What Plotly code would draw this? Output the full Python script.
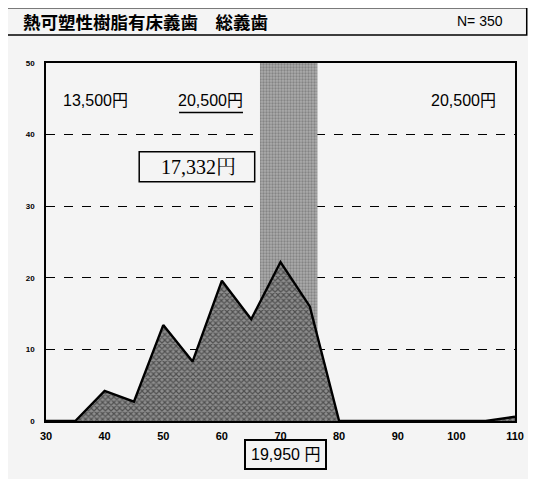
import plotly.graph_objects as go

# Data
ages = [30, 35, 40, 45, 50, 55, 60, 65, 70, 75, 80, 85, 90, 95, 100, 105, 110]
counts = [0, 0, 4.2, 2.7, 13.4, 8.3, 19.6, 14.2, 22.2, 16, 0, 0, 0, 0, 0, 0, 0.6]
band_x = [66.5, 76.3]
band_y = [0, 50]
title_text = "熱可塑性樹脂有床義歯　総義歯"
n_text = "N= 350"
price_left = "13,500円"
price_mid = "20,500円"
price_right = "20,500円"
price_mean = "17,332円"
price_bottom = "19,950 円"
x_ticks = [30, 40, 50, 60, 70, 80, 90, 100, 110]
y_ticks = [0, 10, 20, 30, 40, 50]

BG = "#f4f4f4"
fig = go.Figure()

# shaded band
fig.add_trace(go.Scatter(
    x=[band_x[0], band_x[1], band_x[1], band_x[0], band_x[0]],
    y=[band_y[0], band_y[0], band_y[1], band_y[1], band_y[0]],
    fill="toself", mode="none",
    fillcolor="#9a9a9a",
    fillpattern=dict(shape=".", fgcolor="#5e5e5e", bgcolor="#ababab", size=3, solidity=0.45),
    hoverinfo="skip", showlegend=False,
))

# distribution area
fig.add_trace(go.Scatter(
    x=ages, y=counts, mode="lines",
    line=dict(color="black", width=2.4),
    fill="tozeroy",
    fillpattern=dict(shape="x", fgcolor="#111111", bgcolor="#8e8e8e", size=4, solidity=0.5),
    showlegend=False,
))

# page body has an 8px margin: figure is shrunk and shifted to compensate
fig.update_layout(
    width=528, height=471,
    margin=dict(l=38, r=18, t=55, b=58),
    paper_bgcolor=BG,
    plot_bgcolor=BG,
    font=dict(family="Liberation Sans, Arial, sans-serif", color="black"),
    showlegend=False,
)

fig.update_xaxes(
    range=[30, 110], tickvals=x_ticks, ticktext=[str(v) for v in x_ticks],
    showgrid=False, zeroline=False,
    showline=True, linecolor="black", linewidth=2, mirror=True,
    ticks="", tickfont=dict(size=11, family="Liberation Sans, Arial", weight="bold"),
    ticklabelstandoff=4,
)
fig.update_yaxes(
    range=[0, 50], tickvals=y_ticks, ticktext=[str(v) for v in y_ticks],
    showgrid=True, gridcolor="black", griddash="dash", gridwidth=1,
    zeroline=False,
    showline=True, linecolor="black", linewidth=1.5, mirror=True,
    ticks="", tickfont=dict(size=8, family="Liberation Sans, Arial", weight="bold"),
    ticklabelstandoff=8,
)

# title box
fig.add_shape(type="rect", xref="paper", yref="paper",
              x0=-0.091, x1=1.025, y0=1.078, y1=1.154,
              line=dict(color="black", width=1.5), fillcolor="rgba(0,0,0,0)")
fig.add_annotation(xref="paper", yref="paper", x=-0.053, y=1.116, xanchor="left", yanchor="middle",
                   text="<b>" + title_text + "</b>", showarrow=False,
                   font=dict(size=17.5, family="Noto Sans CJK JP"))
fig.add_annotation(xref="paper", yref="paper", x=0.978, y=1.116, xanchor="right", yanchor="middle",
                   text=n_text, showarrow=False,
                   font=dict(size=14, family="Liberation Sans, Arial"))

# price labels
lbl_font = dict(size=16, family="Liberation Sans Narrow, Liberation Sans, Noto Sans CJK JP")
fig.add_annotation(x=38.5, y=44.7, text=price_left, showarrow=False, font=lbl_font)
fig.add_annotation(x=58.1, y=44.7, text=price_mid, showarrow=False, font=lbl_font)
fig.add_shape(type="line", x0=52.7, x1=63.6, y0=43.1, y1=43.1,
              line=dict(color="black", width=1.5))
fig.add_annotation(x=101.2, y=44.7, text=price_right, showarrow=False, font=lbl_font)

# mean price box
fig.add_shape(type="rect", x0=45.9, x1=65.6, y0=33.4, y1=37.6,
              line=dict(color="black", width=1.5), fillcolor=BG)
fig.add_annotation(x=56.0, y=35.5, text=price_mean, showarrow=False,
                   font=dict(size=20, family="Liberation Serif, Noto Serif CJK JP, Noto Sans CJK JP"))

fig.add_annotation(xref="x", yref="paper", x=70.8, y=-0.137, text=price_bottom, showarrow=False,
                   font=dict(size=16, family="Liberation Sans, Noto Sans CJK JP"),
                   bordercolor="black", borderwidth=2, borderpad=5, bgcolor=BG)

fig.write_html("out.html")
